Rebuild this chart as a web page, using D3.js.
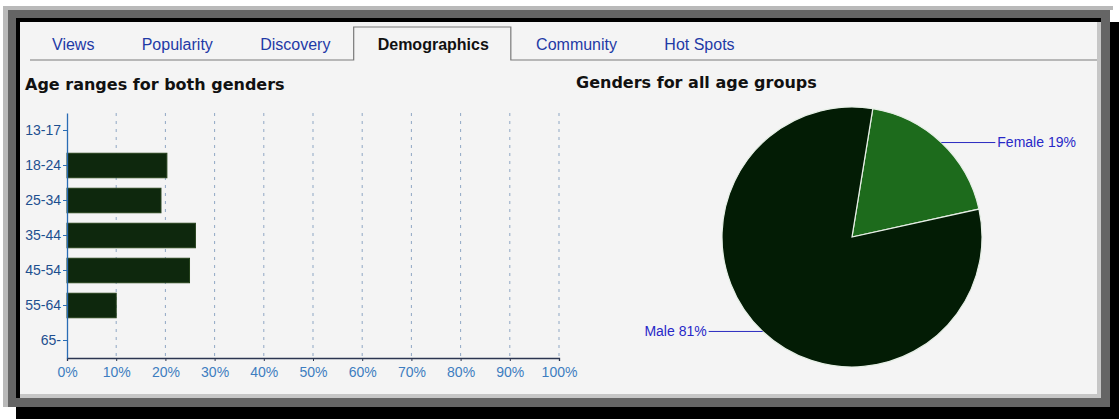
<!DOCTYPE html>
<html><head><meta charset="utf-8">
<script src="https://cdn.jsdelivr.net/npm/d3@7"></script>
<style>body{margin:0;background:#fff}svg{display:block}</style>
</head><body>
<svg id="c" width="1119" height="419"></svg>
<script>
// ---- data ----
const tabs = ["Views", "Popularity", "Discovery", "Demographics", "Community", "Hot Spots"];
const activeTab = "Demographics";
const barTitle = "Age ranges for both genders";
const pieTitle = "Genders for all age groups";
const ageGroups = ["13-17", "18-24", "25-34", "35-44", "45-54", "55-64", "65-"];
const agePercent = [0, 20.3, 19.1, 26.1, 24.9, 10, 0];
const xTicks = [0, 10, 20, 30, 40, 50, 60, 70, 80, 90, 100];
const genders = ["Female", "Male"];
const genderPercent = [19, 81];

const svg = d3.select("#c");

// ---- monitor-like frame ----
svg.append("rect").attr("x", 16).attr("y", 22).attr("width", 1103).attr("height", 397).attr("fill", "#000");
svg.append("rect").attr("x", 3).attr("y", 6).attr("width", 1110).attr("height", 4).attr("fill", "#b9b9b9");
svg.append("rect").attr("x", 3).attr("y", 6).attr("width", 5).attr("height", 401).attr("fill", "#b9b9b9");
svg.append("rect").attr("x", 8).attr("y", 10).attr("width", 1102).attr("height", 397).attr("fill", "#656565");
svg.append("rect").attr("x", 16).attr("y", 18).attr("width", 1085).attr("height", 380).attr("fill", "#000");
svg.append("rect").attr("x", 20).attr("y", 22).attr("width", 1081).attr("height", 376).attr("fill", "#c6c6c6");
svg.append("rect").attr("x", 20).attr("y", 22).attr("width", 1077).attr("height", 372).attr("fill", "#f4f4f4");

// ---- tabs ----
const tabG = svg.append("g");
let tx = 52;
const tabLine = 60;
tabs.forEach(t => {
  const active = t === activeTab;
  const txt = tabG.append("text")
    .attr("x", tx).attr("y", 50)
    .attr("font-family", "Liberation Sans, Arial, sans-serif")
    .attr("font-size", 16)
    .attr("font-weight", active ? "bold" : "normal")
    .attr("fill", active ? "#111" : "#1f3aa6")
    .text(t);
  const w = txt.node().getComputedTextLength();
  if (active) {
    tabG.append("path")
      .attr("d", `M30,${tabLine}H${tx - 24}V27H${tx + w + 22}V${tabLine}H1097`)
      .attr("fill", "none").attr("stroke", "#7a7a7a").attr("stroke-width", 1.2);
  }
  tx += w + 47.3;
});

// ---- titles ----
svg.append("text").attr("x", 25).attr("y", 90)
  .attr("font-family", "DejaVu Sans, Verdana, sans-serif").attr("font-weight", "bold")
  .attr("font-size", 16).attr("fill", "#111").text(barTitle);
svg.append("text").attr("x", 576).attr("y", 88)
  .attr("font-family", "DejaVu Sans, Verdana, sans-serif").attr("font-weight", "bold")
  .attr("font-size", 16).attr("fill", "#111").text(pieTitle);

// ---- bar chart ----
const x = d3.scaleLinear().domain([0, 100]).range([67, 559]);
const y = d3.scaleBand().domain(ageGroups).range([113, 358]).paddingInner(0.3).paddingOuter(0.15);

const grid = svg.append("g");
grid.selectAll("line").data(xTicks.slice(1)).join("line")
  .attr("x1", d => x(d)).attr("x2", d => x(d))
  .attr("y1", 113).attr("y2", 358)
  .attr("stroke", "#6f8fb5").attr("stroke-width", 1)
  .attr("stroke-dasharray", "3,5").attr("opacity", 0.75);

svg.append("g").selectAll("rect").data(ageGroups.map((g, i) => ({g, v: agePercent[i]})).filter(d => d.v > 0))
  .join("rect")
  .attr("x", x(0)).attr("y", d => y(d.g))
  .attr("width", d => x(d.v) - x(0)).attr("height", y.bandwidth())
  .attr("fill", "#0e280d").attr("stroke", "#24401a").attr("stroke-width", 1);

const xAxis = svg.append("g").attr("transform", "translate(0,358)")
  .call(d3.axisBottom(x).tickValues(xTicks).tickFormat(d => d + "%").tickSize(3).tickPadding(6));
xAxis.select(".domain").attr("stroke", "#2b3550").attr("stroke-width", 1.3);
xAxis.selectAll(".tick line").attr("stroke", "#2b3550");
xAxis.selectAll("text").attr("font-family", "Liberation Sans, Arial, sans-serif")
  .attr("font-size", 14).attr("fill", "#3d7dc0");

const yAxis = svg.append("g").attr("transform", "translate(67,0)")
  .call(d3.axisLeft(y).tickSize(4).tickPadding(2).tickSizeOuter(0));
yAxis.select(".domain").attr("stroke", "#2a6cb5").attr("stroke-width", 1.3);
yAxis.selectAll(".tick line").attr("stroke", "#2a6cb5");
yAxis.selectAll("text").attr("font-family", "Liberation Sans, Arial, sans-serif")
  .attr("font-size", 14).attr("fill", "#1d4f8f");

// ---- pie chart ----
const cx = 852, cy = 237, R = 130;
const pie = d3.pie().sort(null).value(d => d.v)
  .startAngle(9.2 * Math.PI / 180).endAngle(9.2 * Math.PI / 180 + 2 * Math.PI);
const arcs = pie(genders.map((g, i) => ({g, v: genderPercent[i]})));
const arc = d3.arc().innerRadius(0).outerRadius(R);
const colors = {Female: "#1d6b1c", Male: "#031c05"};
const pg = svg.append("g").attr("transform", `translate(${cx},${cy})`);
pg.selectAll("path").data(arcs).join("path")
  .attr("d", arc).attr("fill", d => colors[d.data.g])
  .attr("stroke", "#e6efe6").attr("stroke-width", 1.2);

arcs.forEach(a => {
  const m = (a.startAngle + a.endAngle) / 2;
  const px = R * Math.sin(m), py = -R * Math.cos(m);
  const dir = px >= 0 ? 1 : -1;
  const ex = px + dir * 54;
  pg.append("line").attr("x1", px).attr("y1", py).attr("x2", ex).attr("y2", py)
    .attr("stroke", "#2a2ac0").attr("stroke-width", 1);
  pg.append("text").attr("x", ex + dir * 2).attr("y", py).attr("dy", "0.35em")
    .attr("text-anchor", dir > 0 ? "start" : "end")
    .attr("font-family", "Liberation Sans, Arial, sans-serif").attr("font-size", 14)
    .attr("fill", "#2828c8")
    .text(`${a.data.g} ${a.data.v}%`);
});
</script>
</body></html>
